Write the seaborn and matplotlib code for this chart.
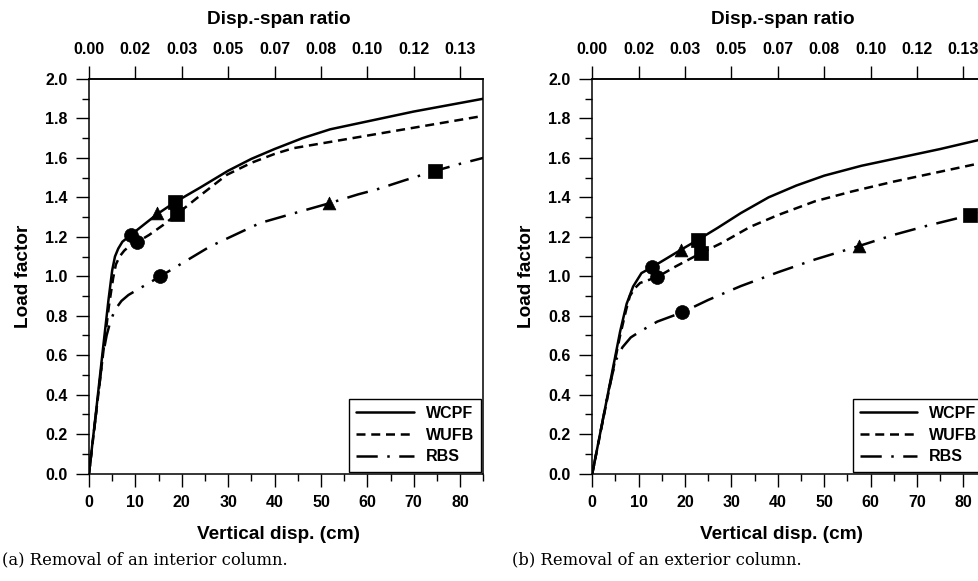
import matplotlib
matplotlib.use("Agg")
import matplotlib.pyplot as plt
import seaborn as sns
from matplotlib.lines import Line2D
from matplotlib.ticker import FixedLocator, NullLocator

# ---------------- data ----------------
# (a) interior column removal
a_wcpf_x = [0, 1.5, 3.0, 4.2, 5.0, 5.6, 6.3, 7.2, 9.05, 12, 14.7, 18.5, 24, 30, 35, 40, 46, 52, 60, 70, 85]
a_wcpf_y = [0, 0.31, 0.63, 0.88, 1.03, 1.10, 1.14, 1.175, 1.21, 1.265, 1.315, 1.375, 1.45, 1.535, 1.595, 1.645, 1.70, 1.745, 1.785, 1.835, 1.90]
a_wufb_x = [0, 1.5, 3.0, 4.3, 5.2, 5.8, 6.6, 7.6, 8.8, 10.4, 13, 16, 19.0, 24, 29.7, 35, 40, 44, 50, 60, 70, 85]
a_wufb_y = [0, 0.30, 0.60, 0.85, 0.99, 1.06, 1.10, 1.13, 1.155, 1.173, 1.21, 1.26, 1.316, 1.41, 1.514, 1.575, 1.62, 1.649, 1.673, 1.713, 1.753, 1.813]
a_rbs_x = [0, 1.5, 3.0, 3.8, 4.6, 5.6, 7.0, 8.5, 10.3, 12.5, 15.4, 20, 26.1, 30, 36.9, 44, 51.8, 58, 62, 68, 74.6, 80, 85]
a_rbs_y = [0, 0.30, 0.60, 0.70, 0.77, 0.83, 0.875, 0.905, 0.93, 0.96, 1.0, 1.065, 1.151, 1.194, 1.27, 1.318, 1.37, 1.415, 1.44, 1.486, 1.534, 1.57, 1.60]

a_wcpf_mk = {"o": (9.05, 1.21), "^": (14.7, 1.32), "s": (18.5, 1.375)}
a_wufb_mk = {"o": (10.4, 1.173), "s": (19.0, 1.316)}
a_rbs_mk = {"o": (15.4, 1.0), "^": (51.8, 1.37), "s": (74.6, 1.534)}

# (b) exterior column removal
b_wcpf_x = [0, 2, 4, 6, 7.4, 8.8, 10.6, 12.8, 16, 19.1, 22.8, 27, 32, 38, 44, 50, 58, 66, 75, 85]
b_wcpf_y = [0, 0.24, 0.48, 0.72, 0.86, 0.948, 1.016, 1.045, 1.09, 1.134, 1.185, 1.245, 1.32, 1.40, 1.46, 1.51, 1.56, 1.60, 1.645, 1.70]
b_wufb_x = [0, 2, 4, 6, 7.3, 8.1, 9.2, 10.3, 14.0, 18, 23.4, 28, 34, 40, 48, 56, 65, 75, 85]
b_wufb_y = [0, 0.235, 0.47, 0.70, 0.83, 0.90, 0.94, 0.966, 0.996, 1.05, 1.117, 1.17, 1.25, 1.31, 1.38, 1.43, 1.48, 1.53, 1.58]
b_rbs_x = [0, 2, 3.5, 4.5, 5.2, 6.5, 8.3, 10.3, 14, 19.4, 25, 32, 40, 48, 57.6, 65, 72, 81.5, 85]
b_rbs_y = [0, 0.24, 0.42, 0.52, 0.58, 0.64, 0.69, 0.72, 0.77, 0.817, 0.88, 0.95, 1.02, 1.085, 1.154, 1.21, 1.255, 1.31, 1.33]

b_wcpf_mk = {"o": (12.8, 1.045), "^": (19.1, 1.134), "s": (22.8, 1.185)}
b_wufb_mk = {"o": (14.0, 0.996), "s": (23.4, 1.117)}
b_rbs_mk = {"o": (19.4, 0.817), "^": (57.6, 1.154), "s": (81.5, 1.31)}

series_names = ["WCPF", "WUFB", "RBS"]
x_ticks = [0, 10, 20, 30, 40, 50, 60, 70, 80]
x_minor = [5, 15, 25, 35, 45, 55, 65, 75, 85]
top_labels = ["0.00", "0.02", "0.03", "0.05", "0.07", "0.08", "0.10", "0.12", "0.13"]
y_ticks = [0.0, 0.2, 0.4, 0.6, 0.8, 1.0, 1.2, 1.4, 1.6, 1.8, 2.0]
y_minor = [0.1, 0.3, 0.5, 0.7, 0.9, 1.1, 1.3, 1.5, 1.7, 1.9]
captions = ["(a) Removal of an interior column.", "(b) Removal of an exterior column."]

# ---------------- style ----------------
sns.set_style("ticks")
plt.rcParams.update({
    "font.family": ["Liberation Sans", "DejaVu Sans"],
    "font.weight": "bold",
    "axes.edgecolor": "black",
    "axes.labelcolor": "black",
    "text.color": "black",
    "xtick.color": "black",
    "ytick.color": "black",
    "axes.linewidth": 1.1,
})

styles = {
    "WCPF": "-",
    "WUFB": (0, (3.6, 2.3)),
    "RBS": (0, (8.5, 3.8, 1, 3.8)),
}
LW = 1.8
TICK_FS = 11.5
LAB_FS = 13.7

fig = plt.figure(figsize=(9.79, 5.81), dpi=100)
W, H = 979, 581
ax_w = 394.3 / W
ax_h = 394.5 / H
ax_b = 1 - 473.5 / H
axes = [fig.add_axes([89 / W, ax_b, ax_w, ax_h]),
        fig.add_axes([592.3 / W, ax_b, ax_w, ax_h])]

panels = [
    ((a_wcpf_x, a_wcpf_y, a_wcpf_mk), (a_wufb_x, a_wufb_y, a_wufb_mk), (a_rbs_x, a_rbs_y, a_rbs_mk)),
    ((b_wcpf_x, b_wcpf_y, b_wcpf_mk), (b_wufb_x, b_wufb_y, b_wufb_mk), (b_rbs_x, b_rbs_y, b_rbs_mk)),
]

for ax, panel, cap, cap_x in zip(axes, panels, captions, [2, 512]):
    for name, (xs, ys, mk) in zip(series_names, panel):
        sns.lineplot(x=xs, y=ys, ax=ax, color="black", linewidth=LW,
                     linestyle=styles[name], estimator=None, sort=False)
        for m, (mx, my) in mk.items():
            size = {"o": 100, "s": 100, "^": 85}[m]
            sns.scatterplot(x=[mx], y=[my], ax=ax, marker=m, s=size,
                            color="black", edgecolor="black", linewidth=0.5, zorder=5)
    ax.set_xlim(0, 85)
    ax.set_ylim(0, 2.0)
    ax.xaxis.set_major_locator(FixedLocator(x_ticks))
    ax.xaxis.set_minor_locator(FixedLocator(x_minor))
    ax.set_xticklabels([str(t) for t in x_ticks])
    ax.yaxis.set_major_locator(FixedLocator(y_ticks))
    ax.yaxis.set_minor_locator(FixedLocator(y_minor))
    ax.set_yticklabels([f"{t:.1f}" for t in y_ticks])
    ax.tick_params(which="major", direction="out", length=9.5, width=1.0,
                   labelsize=TICK_FS, pad=6)
    ax.tick_params(which="minor", direction="out", length=5, width=1.0)
    ax.tick_params(top=False, right=False, which="both")
    for sp in ax.spines.values():
        sp.set_visible(True)
        sp.set_color("black")
    ax.set_xlabel("Vertical disp. (cm)", fontsize=LAB_FS, fontweight="bold", labelpad=11.5)
    ax.xaxis.label.set_x(0.48)
    ax.set_ylabel("Load factor", fontsize=LAB_FS, fontweight="bold", labelpad=9.5)

    sec = ax.secondary_xaxis("top")
    sec.set_xticks(x_ticks, labels=top_labels)
    sec.xaxis.set_minor_locator(NullLocator())
    sec.tick_params(which="major", direction="out", length=9.5, width=1.0,
                    labelsize=TICK_FS, pad=6)
    sec.spines["top"].set_color("black")
    sec.spines["top"].set_linewidth(1.1)
    sec.set_xlabel("Disp.-span ratio", fontsize=LAB_FS, fontweight="bold", labelpad=13)
    sec.xaxis.label.set_x(0.482)

    handles = [Line2D([], [], color="black", lw=LW, linestyle=styles[n]) for n in series_names]
    leg = ax.legend(handles, series_names, loc="lower right", frameon=True, fancybox=False,
                    edgecolor="black", framealpha=1, borderaxespad=0.12,
                    handlelength=3.6, handletextpad=0.75, labelspacing=0.42, borderpad=0.45,
                    prop={"weight": "bold", "size": TICK_FS})
    leg.get_frame().set_linewidth(1.0)

    fig.text(cap_x / W, 1 - 560 / H, cap, family="DejaVu Serif", fontweight="normal",
             fontsize=11.8, ha="left", va="center")

fig.savefig("out.png", dpi=100)
